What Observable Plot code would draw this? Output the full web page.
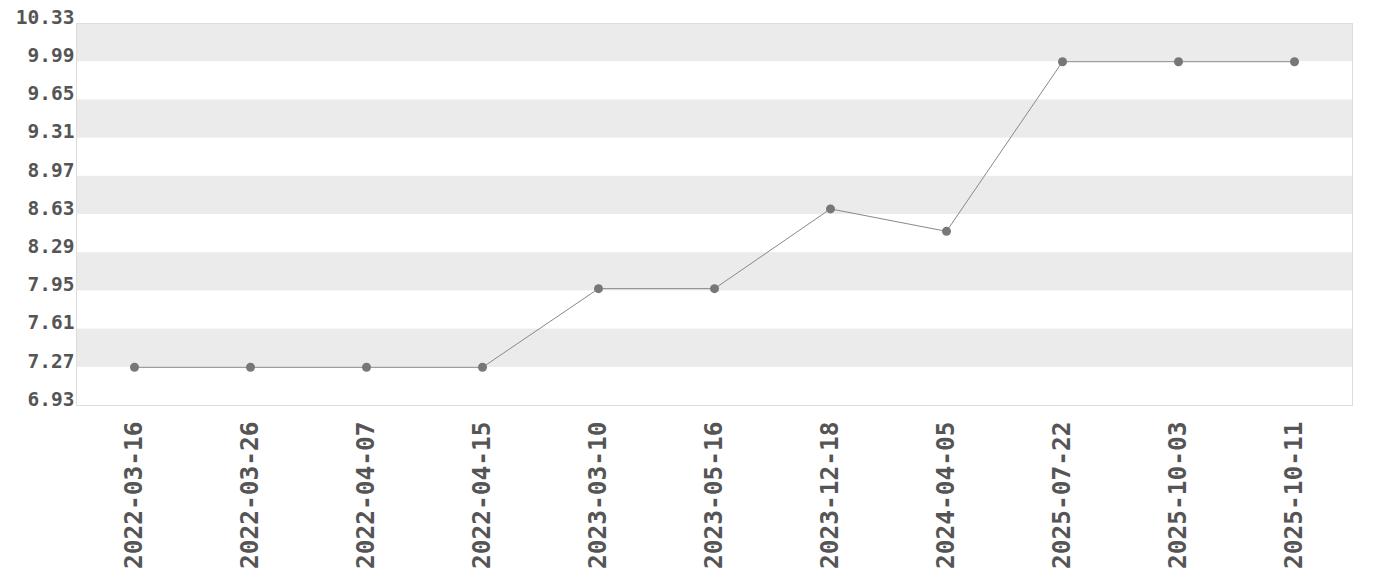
<!DOCTYPE html>
<html><head><meta charset="utf-8">
<script src="https://cdn.jsdelivr.net/npm/d3@7"></script>
<script src="https://cdn.jsdelivr.net/npm/@observablehq/plot@0.6"></script>
<style>body{margin:0;background:#fff;} svg{display:block;}</style>
</head><body><div id="chart"></div>
<script>
const dates = ["2022-03-16","2022-03-26","2022-04-07","2022-04-15","2023-03-10","2023-05-16","2023-12-18","2024-04-05","2025-07-22","2025-10-03","2025-10-11"];
const values = [7.27,7.27,7.27,7.27,7.97,7.97,8.68,8.48,9.99,9.99,9.99];
const yTicks = [6.93,7.27,7.61,7.95,8.29,8.63,8.97,9.31,9.65,9.99,10.33];
const bandLo = [7.27,7.95,8.63,9.31,9.99];
const bandHi = [7.61,8.29,8.97,9.65,10.33];

const data = dates.map((d,i)=>({date:d, value:values[i]}));
const bands = bandLo.map((lo,i)=>({lo, hi:bandHi[i]}));
const font = "'DejaVu Sans Mono', monospace";

const plot = Plot.plot({
  width: 1380, height: 580,
  marginLeft: 76, marginRight: 28, marginTop: 23, marginBottom: 175,
  style: {fontFamily: font, background: "#fff"},
  x: {type: "point", domain: dates, padding: 0.5},
  y: {domain: [6.93, 10.33]},
  marks: [
    Plot.rect(bands, {y1: "lo", y2: "hi", fill: "#ebebeb"}),
    Plot.frame({stroke: "#dddddd"}),
    Plot.axisY({ticks: yTicks, tickSize: 0, tickPadding: 2, dy: -6, tickFormat: d => d.toFixed(2),
      fontSize: 19.5, fontWeight: "bold", fill: "#555", label: null}),
    Plot.axisX({tickSize: 0, tickPadding: 16, tickRotate: -90, fontSize: 24.5, fontWeight: "bold", fill: "#555", label: null}),
    Plot.line(data, {x: "date", y: "value", stroke: "#888", strokeWidth: 1}),
    Plot.dot(data, {x: "date", y: "value", r: 4.5, fill: "#777", stroke: "none"})
  ]
});
document.getElementById("chart").appendChild(plot);
</script></body></html>
